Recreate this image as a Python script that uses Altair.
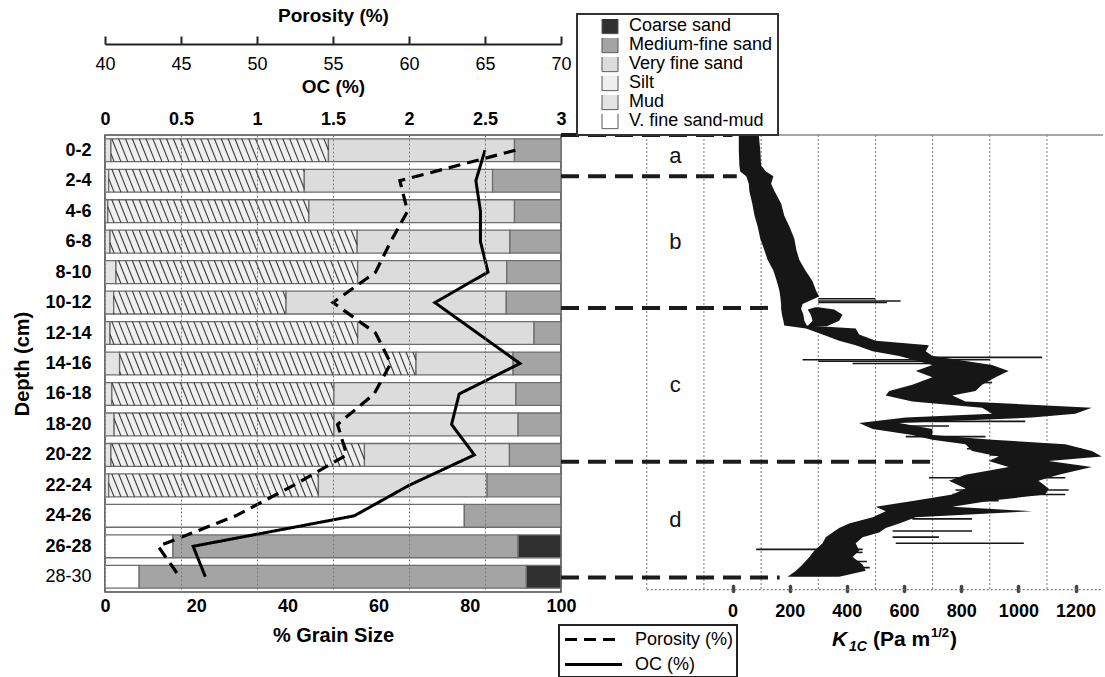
import json
import numpy as np
import pandas as pd
import altair as alt

FONT = "Liberation Sans"

# ---------------- sediment core: grain size, porosity, organic carbon ----------------
DEPTH_LABELS = ["0-2", "2-4", "4-6", "6-8", "8-10", "10-12", "12-14", "14-16",
                "16-18", "18-20", "20-22", "22-24", "24-26", "26-28", "28-30"]

CLASSES = ["Coarse sand", "Medium-fine sand", "Very fine sand", "Silt", "Mud", "V. fine sand-mud"]
CLASS_COLORS = ["#303030", "#a4a4a4", "#dcdcdc", "#efefef", "#e4e4e4", "#ffffff"]

# percentage of each class per depth interval (left-to-right stacking order)
VF_SAND_MUD = [0, 0, 0, 0, 0, 0, 0, 0, 0, 0, 0, 0, 78.8, 14.9, 7.5]
MUD = [1.3, 0.8, 0.6, 1.1, 2.4, 1.9, 1.1, 3.2, 1.5, 2.0, 1.3, 0.8, 0, 0, 0]
SILT = [47.7, 42.9, 44.1, 54.2, 53.0, 37.8, 54.3, 65.0, 48.7, 48.2, 55.6, 46.0, 0, 0, 0]
VERY_FINE_SAND = [40.8, 41.3, 45.1, 33.5, 32.7, 48.3, 38.7, 21.3, 39.9, 40.4, 31.8, 37.0, 0, 0, 0]
MEDIUM_FINE_SAND = [10.2, 15.0, 10.2, 11.2, 11.9, 12.0, 5.9, 10.5, 9.9, 9.4, 11.3, 16.2, 21.2, 75.7, 84.9]
COARSE_SAND = [0, 0, 0, 0, 0, 0, 0, 0, 0, 0, 0, 0, 0, 9.4, 7.6]

POROSITY = [67.0, 59.4, 59.9, 58.8, 57.8, 55.0, 57.8, 58.8, 57.7, 55.3, 55.9, 52.4, 48.6, 43.5, 44.9]
OC = [2.50, 2.44, 2.47, 2.47, 2.52, 2.17, 2.45, 2.73, 2.33, 2.28, 2.43, 2.00, 1.64, 0.58, 0.66]

GRAIN_TICKS = [0, 20, 40, 60, 80, 100]
OC_TICKS = [0, 0.5, 1, 1.5, 2, 2.5, 3]
POROSITY_TICKS = [40, 45, 50, 55, 60, 65, 70]

# ---------------- fracture toughness profile ----------------
K_DEPTH = [0.0, 1.0, 2.0, 2.4, 2.7, 3.2, 3.7, 4.5, 5.3, 6.0, 6.8, 7.6, 8.2, 8.9, 9.6,
           10.2, 10.6, 11.1, 11.4, 11.8, 12.2, 12.5, 12.7, 13.1, 13.5, 13.8, 14.2, 14.5, 15.1, 15.5,
           15.9, 16.4, 16.8, 17.1, 17.5, 17.9, 18.3, 18.55, 18.9, 19.3, 19.7, 20.0, 20.3, 20.75, 21.1,
           21.4, 21.8, 22.3, 22.7, 23.2, 23.6, 24.0, 24.4, 24.7, 25.1, 25.5, 25.8, 26.1, 26.4, 26.8,
           27.3, 27.7, 28.2, 28.6, 29.0]
K_LOW = [22, 22, 24, 27, 48, 57, 59, 69, 77, 88, 97, 112, 123, 143, 155,
         164, 167, 170, 170, 173, 178, 181, 257, 315, 373, 431, 490, 583, 699, 641,
         699, 629, 548, 536, 629, 873, 908, 606, 443, 490, 629, 699, 815, 838, 931,
         896, 966, 815, 757, 815, 769, 641, 501, 536, 490, 408, 373, 350, 326, 315,
         286, 269, 245, 222, 193]
K_HIGH = [92, 97, 100, 117, 143, 135, 147, 170, 181, 199, 216, 224, 234, 255, 280,
          292, 303, 245, 240, 248, 251, 260, 431, 443, 501, 687, 676, 699, 908, 966,
          920, 873, 850, 769, 815, 1257, 1199, 1048, 583, 699, 699, 908, 1164, 1257, 1292,
          1106, 1257, 1141, 1070, 1106, 1094, 908, 769, 1048, 641, 583, 536, 513, 455, 431,
          443, 420, 455, 466, 373]

# detached lobe beside the main trace (zone b/c transition)
LOBE_DEPTH = [11.3, 11.45, 11.8, 12.2, 12.55]
LOBE_LOW = [290, 263, 274, 280, 262]
LOBE_HIGH = [300, 356, 385, 373, 330]

# thin excursions of the trace
SPIKE_DEPTH = [10.75, 10.9, 11.0, 14.6, 14.75, 14.85, 15.0, 16.25, 18.8, 19.1, 19.8,
               20.6, 21.0, 22.5, 23.3, 23.6, 24.0, 25.2, 26.0, 26.4, 26.8, 27.2, 27.4,
               28.0, 28.4]
SPIKE_LOW = [300, 300, 300, 690, 245, 300, 420, 850, 536, 583, 606,
             820, 900, 687, 780, 769, 792, 629, 560, 560, 571, 83, 350,
             300, 300]
SPIKE_HIGH = [500, 588, 540, 1083, 900, 720, 840, 908, 1024, 757, 885,
              1220, 1250, 1164, 1176, 1164, 931, 838, 838, 722, 1019, 455, 455,
              470, 480]

ZONE_DEPTH = [0, 2.7, 11.35, 21.45, 29.05]
ZONE_REACH = [0, 15, 140, 700, 165]
ZONE_NAMES = ["a", "b", "c", "d"]

K_TICKS = [0, 200, 400, 600, 800, 1000, 1200]
K_GRID = [-300, -100, 100, 300, 500, 700, 900, 1100]
K_MIN, K_MAX, K_FRAME_LEFT = -600, 1296, -300
CORE_BOTTOM = 29.85

LEFT_W, RIGHT_W, H = 456, 542, 457

# ---------------- tables ----------------
stack = [("V. fine sand-mud", VF_SAND_MUD), ("Mud", MUD), ("Silt", SILT),
         ("Very fine sand", VERY_FINE_SAND), ("Medium-fine sand", MEDIUM_FINE_SAND),
         ("Coarse sand", COARSE_SAND)]
bar_rows = []
for i in range(len(DEPTH_LABELS)):
    start = 0.0
    for cls, vals in stack:
        v = vals[i]
        if v > 0:
            bar_rows.append({"cls": cls, "x0": start, "x1": start + v,
                             "top": 2 * i + 0.25, "bot": 2 * i + 1.75})
            start += v
bars_df = pd.DataFrame(bar_rows)

# diagonal hatching over the silt fraction
SPACING, SLANT = 1.5, 2.0
hatch_rows = []
for r in bar_rows:
    if r["cls"] != "Silt":
        continue
    x0, x1, top, bot = r["x0"], r["x1"], r["top"], r["bot"]
    for c in np.arange(np.floor((x0 - SLANT) / SPACING) * SPACING, x1, SPACING):
        t0 = max(0.0, (x0 - c) / SLANT)
        t1 = min(1.0, (x1 - c) / SLANT)
        if t1 - t0 > 0.02:
            hatch_rows.append({"x0": float(c + SLANT * t0), "x1": float(c + SLANT * t1),
                               "top": float(top + (bot - top) * t0),
                               "bot": float(top + (bot - top) * t1)})
hatch_df = pd.DataFrame(hatch_rows)

centers = [2 * i + 1 for i in range(len(DEPTH_LABELS))]
lines_df = pd.concat([
    pd.DataFrame({"center": centers, "value": POROSITY, "series": "Porosity (%)"}),
    pd.DataFrame({"center": centers, "value": OC, "series": "OC (%)"}),
])

band_df = pd.concat([
    pd.DataFrame({"depth": K_DEPTH, "lo": K_LOW, "hi": K_HIGH, "seg": "main"}),
    pd.DataFrame({"depth": LOBE_DEPTH, "lo": LOBE_LOW, "hi": LOBE_HIGH, "seg": "lobe"}),
]).reset_index(drop=True)

spike_df = pd.DataFrame({"depth": SPIKE_DEPTH, "lo": SPIKE_LOW, "hi": SPIKE_HIGH})
zone_df = pd.DataFrame({"depth": ZONE_DEPTH, "lo": K_MIN, "hi": ZONE_REACH})
zone_lab_df = pd.DataFrame({
    "name": ZONE_NAMES,
    "k": -200,
    "mid": [(ZONE_DEPTH[i] + ZONE_DEPTH[i + 1]) / 2 for i in range(len(ZONE_NAMES))],
})
grid_df = pd.DataFrame({"k": K_GRID, "top": 0.0, "bot": CORE_BOTTOM})
frame_top_df = pd.DataFrame({"lo": [K_FRAME_LEFT], "hi": [K_MAX], "depth": [0.0]})
frame_bot_df = pd.DataFrame({"lo": [K_FRAME_LEFT], "hi": [K_MAX], "depth": [CORE_BOTTOM]})

# ---------------- left panel ----------------
depth_scale = alt.Scale(domain=[0, 30], reverse=True, nice=False, zero=False)
grain_scale = alt.Scale(domain=[0, 100], nice=False, zero=False)

depth_axis = alt.Axis(
    values=centers,
    labelExpr=json.dumps(DEPTH_LABELS) + "[(datum.value - 1) / 2]",
    title="Depth (cm)", titleFontSize=20, titleFontWeight="bold", titlePadding=12,
    labelFontSize=18,
    labelFontWeight={"condition": {"test": "datum.value == 29", "value": "normal"}, "value": "bold"},
    labelPadding=14, ticks=False, tickSize=0, domain=False, grid=False, labelColor="black",
)
grain_axis = alt.Axis(
    orient="bottom", values=GRAIN_TICKS, title="% Grain Size", titleFontSize=20,
    titleFontWeight="bold", titlePadding=10, labelFontSize=18, labelFontWeight="bold",
    labelPadding=5, ticks=False, tickSize=0, domain=False, grid=False, labelFlush=False,
    labelColor="black",
)
oc_axis = alt.Axis(
    orient="top", values=OC_TICKS, format="~g", title="OC (%)", titleFontSize=19,
    titleFontWeight="bold", titlePadding=14, labelFontSize=18, labelFontWeight="bold",
    labelPadding=7, ticks=False, tickSize=0, domain=False, grid=True, gridDash=[2, 2],
    gridColor="#7a7a7a", gridWidth=1, labelFlush=False, zindex=1, labelColor="black",
)
poro_axis = alt.Axis(
    orient="top", offset=91, values=POROSITY_TICKS, title="Porosity (%)", titleFontSize=19,
    titleFontWeight="bold", titlePadding=10, labelFontSize=18, labelFontWeight="normal",
    labelBaseline="top", labelPadding=-19, tickSize=8, tickWidth=2, tickColor="#222",
    domain=True, domainColor="#222", domainWidth=2, grid=False, labelFlush=False,
    labelColor="black",
)

fill_legend = alt.Legend(
    title=None, orient="none", legendX=472, legendY=-121, symbolType="square",
    symbolSize=256, symbolStrokeColor="#555", symbolStrokeWidth=1, symbolOffset=19,
    labelFontSize=18, labelFont=FONT, labelColor="black", labelOffset=10, rowPadding=0,
    clipHeight=13.4, padding=5, strokeColor="#333", fillColor="white", zindex=0,
)
dash_legend = alt.Legend(
    title=None, orient="none", legendX=454, legendY=490, symbolType="M-3,0H3",
    symbolSize=361, symbolStrokeWidth=3.2, symbolStrokeColor="black", symbolOffset=20,
    labelFontSize=18, labelFont=FONT, labelColor="black", labelOffset=30, rowPadding=4,
    padding=3, strokeColor="#222", fillColor="white",
)
dash_scale = alt.Scale(domain=["Porosity (%)", "OC (%)"], range=[[12, 7], [1, 0]])

bars = alt.Chart(bars_df).mark_rect(stroke="#6d6d6d", strokeWidth=1.3).encode(
    x=alt.X("x0:Q", scale=grain_scale, axis=grain_axis),
    x2="x1:Q",
    y=alt.Y("top:Q", scale=depth_scale, axis=depth_axis),
    y2="bot:Q",
    fill=alt.Fill("cls:N", scale=alt.Scale(domain=CLASSES, range=CLASS_COLORS), legend=fill_legend),
)
hatch = alt.Chart(hatch_df).mark_rule(color="#3a3a3a", strokeWidth=1.1).encode(
    x=alt.X("x0:Q", scale=grain_scale, axis=grain_axis),
    x2="x1:Q",
    y=alt.Y("top:Q", scale=depth_scale, axis=depth_axis),
    y2="bot:Q",
)
grain = alt.layer(bars, hatch)

poro = alt.Chart(lines_df).transform_filter(alt.datum.series == "Porosity (%)").mark_line(
    color="black", strokeWidth=3.2
).encode(
    x=alt.X("value:Q", scale=alt.Scale(domain=[40, 70], nice=False, zero=False), axis=poro_axis),
    y=alt.Y("center:Q", scale=depth_scale, axis=depth_axis),
    order="center:Q",
    strokeDash=alt.StrokeDash("series:N", scale=dash_scale, legend=dash_legend),
)
oc = alt.Chart(lines_df).transform_filter(alt.datum.series == "OC (%)").mark_line(
    color="black", strokeWidth=3
).encode(
    x=alt.X("value:Q", scale=alt.Scale(domain=[0, 3], nice=False, zero=False), axis=oc_axis),
    y=alt.Y("center:Q", scale=depth_scale, axis=depth_axis),
    order="center:Q",
    strokeDash=alt.StrokeDash("series:N", scale=dash_scale, legend=dash_legend),
)

left = alt.layer(grain, oc, poro).resolve_scale(x="independent").properties(
    width=LEFT_W, height=H,
    view=alt.ViewBackground(stroke="#4a4a4a", strokeWidth=1.6),
)

# ---------------- right panel ----------------
k_scale = alt.Scale(domain=[K_MIN, K_MAX], nice=False, zero=False)
kd_scale = alt.Scale(domain=[0, 30], reverse=True, nice=False, zero=False)
k_axis = alt.Axis(
    orient="bottom", values=K_TICKS, format="d", title=None, labelFontSize=18,
    labelFontWeight="bold", labelColor="black", labelPadding=11, offset=-6, tickSize=5,
    tickWidth=3.5, tickColor="#444", tickCap="round", domain=False, grid=False,
    labelFlush=False,
)

grid = alt.Chart(grid_df).mark_rule(color="#777", strokeWidth=1, strokeDash=[2, 2]).encode(
    x=alt.X("k:Q", scale=k_scale, axis=k_axis),
    y=alt.Y("top:Q", scale=kd_scale, axis=None),
    y2="bot:Q",
)
frame_top = alt.Chart(frame_top_df).mark_rule(color="#8a8a8a", strokeWidth=1.5).encode(
    x=alt.X("lo:Q", scale=k_scale, axis=k_axis), x2="hi:Q",
    y=alt.Y("depth:Q", scale=kd_scale, axis=None),
)
frame_bottom = alt.Chart(frame_bot_df).mark_rule(color="#777", strokeWidth=1.3, strokeDash=[2, 2]).encode(
    x=alt.X("lo:Q", scale=k_scale, axis=k_axis), x2="hi:Q",
    y=alt.Y("depth:Q", scale=kd_scale, axis=None),
)
zones = alt.Chart(zone_df).mark_rule(color="#1c1c1c", strokeWidth=4, strokeDash=[18, 9]).encode(
    x=alt.X("lo:Q", scale=k_scale, axis=k_axis),
    x2="hi:Q",
    y=alt.Y("depth:Q", scale=kd_scale, axis=None),
)
band = alt.Chart(band_df).mark_area(orient="horizontal", color="#161616").encode(
    y=alt.Y("depth:Q", scale=kd_scale, axis=None),
    x=alt.X("lo:Q", scale=k_scale, axis=k_axis, stack=None),
    x2="hi:Q",
    detail="seg:N",
)
spikes = alt.Chart(spike_df).mark_rule(color="#161616", strokeWidth=1.6, clip=True).encode(
    y=alt.Y("depth:Q", scale=kd_scale, axis=None),
    x=alt.X("lo:Q", scale=k_scale, axis=k_axis),
    x2="hi:Q",
)
zone_labels = alt.Chart(zone_lab_df).mark_text(
    fontSize=22, font=FONT, color="#111", align="center", baseline="middle"
).encode(
    x=alt.X("k:Q", scale=k_scale, axis=k_axis),
    y=alt.Y("mid:Q", scale=kd_scale, axis=None),
    text="name:N",
)

# axis title K_1C (Pa m^1/2) assembled from pieces
TITLE_TEXT = ["K", "1C", "(Pa m", "1/2", ")"]
TITLE_X = [271, 288, 312, 370, 389]
TITLE_Y = [511, 516, 511, 502, 511]
TITLE_SIZE = [21, 14, 21, 13, 21]
TITLE_STYLE = ["italic", "italic", "normal", "normal", "normal"]
title_marks = []
for t, px, py, fs, st in zip(TITLE_TEXT, TITLE_X, TITLE_Y, TITLE_SIZE, TITLE_STYLE):
    title_marks.append(
        alt.Chart(pd.DataFrame({"t": [t]})).mark_text(
            font=FONT, fontSize=fs, fontWeight="bold", fontStyle=st,
            align="left", baseline="alphabetic", color="black",
        ).encode(x=alt.value(px), y=alt.value(py), text="t:N")
    )

right = alt.layer(grid, frame_top, frame_bottom, band, spikes, zones, zone_labels,
                  *title_marks).properties(
    width=RIGHT_W, height=H,
    view=alt.ViewBackground(strokeOpacity=0),
)

chart = alt.hconcat(left, right, spacing=0, bounds="flush").configure(
    font=FONT,
    padding={"left": 12, "top": 5, "right": 0, "bottom": 0},
).configure_legend(strokeWidth=2)

chart.save("out.html", embed_options={"renderer": "svg", "actions": False})
